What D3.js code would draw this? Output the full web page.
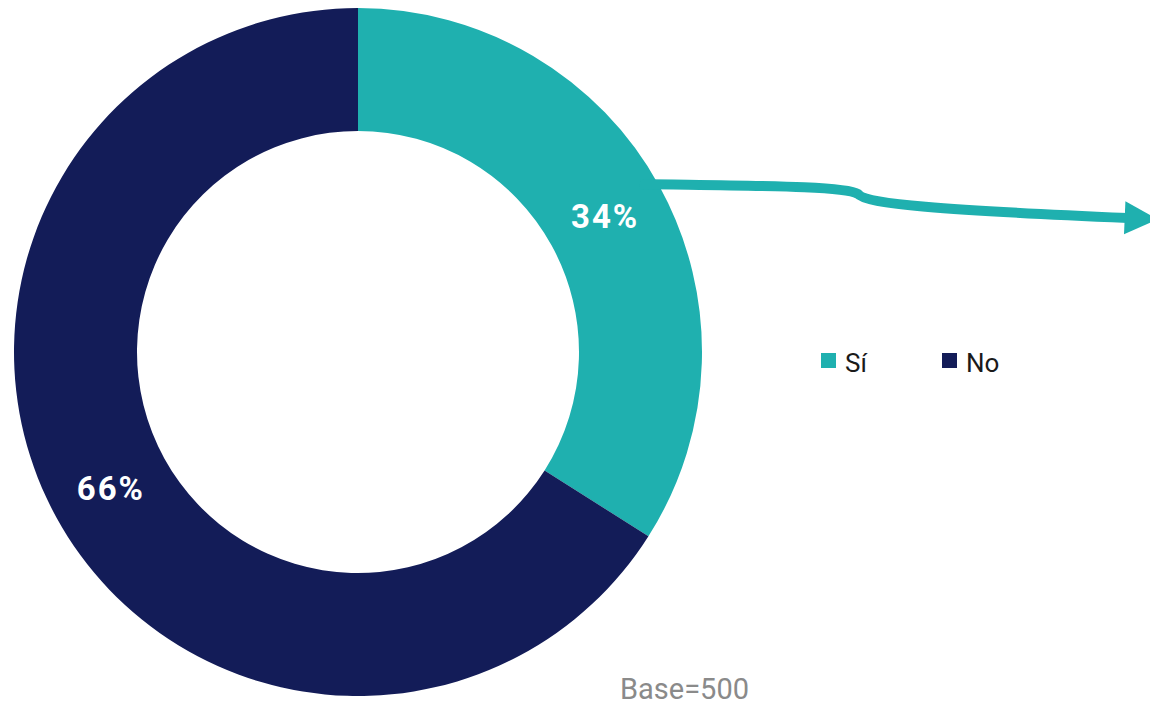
<!DOCTYPE html>
<html>
<head>
<meta charset="utf-8">
<script src="https://cdn.jsdelivr.net/npm/d3@7"></script>
<style>
  body { margin: 0; background: #fff; }
  svg { display: block; }
</style>
</head>
<body>
<div id="chart"></div>
<script>
// data
var categories = ["Sí", "No"];
var values = [34, 66];
var colors = ["#1FB0AF", "#131C58"];
var baseLabel = "Base=500";

var width = 1150, height = 707;
var cx = 358, cy = 352, outerR = 344, innerR = 221;

var svg = d3.select("#chart")
  .append("svg")
    .attr("width", width)
    .attr("height", height);

var pie = d3.pie().sort(null).value(function(d) { return d; });
var arc = d3.arc().innerRadius(innerR).outerRadius(outerR);
var labelArc = d3.arc().innerRadius(282).outerRadius(282);

var g = svg.append("g")
  .attr("transform", "translate(" + cx + "," + cy + ")");

var arcs = pie(values);

g.selectAll("path.slice")
  .data(arcs)
  .enter().append("path")
    .attr("class", "slice")
    .attr("d", arc)
    .attr("fill", function(d, i) { return colors[i]; });

// arrow from the Sí slice
var defs = svg.append("defs");
defs.append("marker")
  .attr("id", "head")
  .attr("viewBox", "0 0 10 10")
  .attr("refX", 1).attr("refY", 5)
  .attr("markerWidth", 3.3).attr("markerHeight", 3.6)
  .attr("markerUnits", "strokeWidth")
  .attr("orient", "auto")
  .append("path")
    .attr("d", "M0,0 L10,5 L0,10 Z")
    .attr("fill", colors[0]);

svg.append("path")
  .attr("d", "M640,184 C760,186 845,186 858,194 C866,204 940,210 1128,218")
  .attr("fill", "none")
  .attr("stroke", colors[0])
  .attr("stroke-width", 10)
  .attr("marker-end", "url(#head)");

// slice labels
g.selectAll("text.pct")
  .data(arcs)
  .enter().append("text")
    .attr("class", "pct")
    .attr("transform", function(d) {
      var c = labelArc.centroid(d);
      return "translate(" + c[0] + "," + (c[1] + 3) + ")";
    })
    .attr("text-anchor", "middle")
    .attr("dominant-baseline", "middle")
    .style("font-family", "Roboto, 'DejaVu Sans', sans-serif")
    .style("font-weight", "bold")
    .style("font-size", "33px")
    .style("letter-spacing", "2px")
    .attr("fill", "#fff")
    .text(function(d) { return d.data + "%"; });

// legend
var legend = svg.append("g")
  .attr("transform", "translate(821,353)");

var item = legend.selectAll("g")
  .data(categories)
  .enter().append("g")
    .attr("transform", function(d, i) { return "translate(" + (i * 121) + ",0)"; });

item.append("rect")
  .attr("width", 15).attr("height", 15)
  .attr("fill", function(d, i) { return colors[i]; });

item.append("text")
  .attr("x", 24).attr("y", 19)
  .style("font-family", "Roboto, 'Liberation Sans', sans-serif")
  .style("font-size", "26px")
  .attr("fill", "#1a1a1a")
  .text(function(d) { return d; });

// base note
svg.append("text")
  .attr("x", 620).attr("y", 699)
  .style("font-family", "Roboto, 'Liberation Sans', sans-serif")
  .style("font-size", "29px")
  .attr("fill", "#8a8a8a")
  .text(baseLabel);
</script>
</body>
</html>
